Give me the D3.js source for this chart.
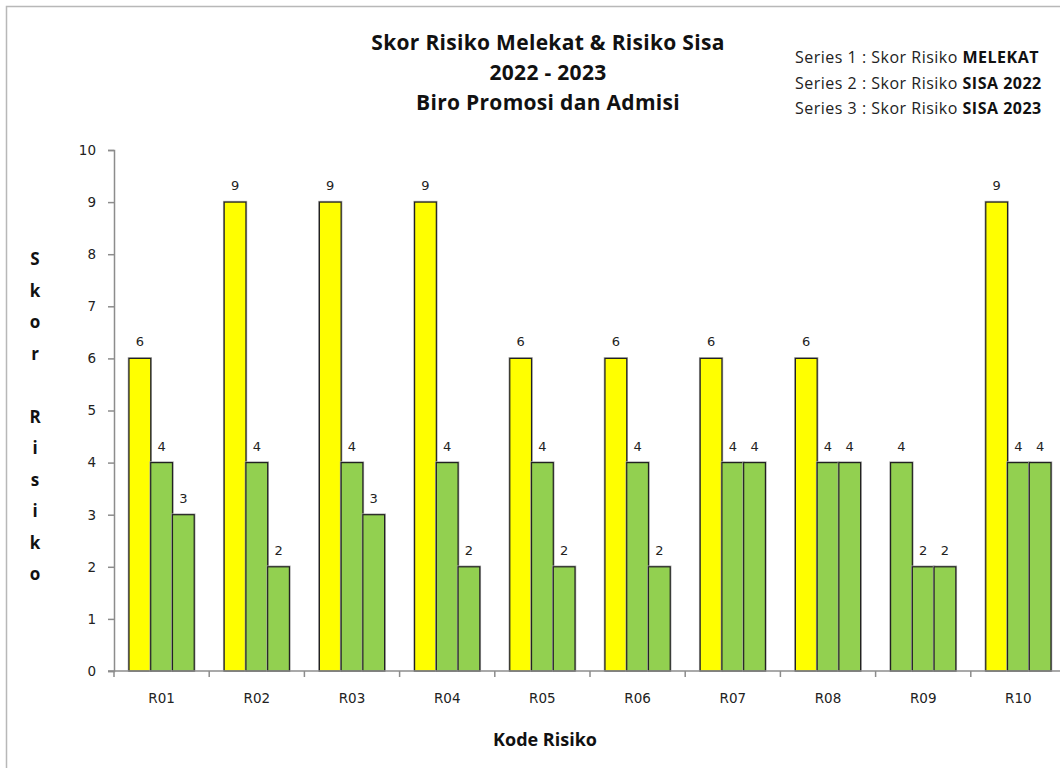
<!DOCTYPE html>
<html>
<head>
<meta charset="utf-8">
<script src="https://cdn.jsdelivr.net/npm/d3@7"></script>
<style>
  html, body { margin: 0; padding: 0; background: #fff; }
  svg { display: block; }
</style>
</head>
<body>
<svg id="chart" width="1060" height="768"></svg>
<script>
// Risk codes and scores per series
const categories = ["R01", "R02", "R03", "R04", "R05", "R06", "R07", "R08", "R09", "R10"];
const melekat   = [6, 9, 9, 9, 6, 6, 6, 6, 4, 9];   // Series 1: Skor Risiko MELEKAT
const sisa2022  = [4, 4, 4, 4, 4, 4, 4, 4, 2, 4];   // Series 2: Skor Risiko SISA 2022
const sisa2023  = [3, 2, 3, 2, 2, 2, 4, 4, 2, 4];   // Series 3: Skor Risiko SISA 2023
const yTicks    = [0, 1, 2, 3, 4, 5, 6, 7, 8, 9, 10];
const seriesKeys = ["melekat", "sisa2022", "sisa2023"];

const titleLines = ["Skor Risiko Melekat & Risiko Sisa", "2022 - 2023", "Biro Promosi dan Admisi"];
const legendLines = [
  ["Series 1 :  Skor Risiko ", "MELEKAT"],
  ["Series 2 :  Skor Risiko ", "SISA 2022"],
  ["Series 3 :  Skor Risiko ", "SISA 2023"]
];

const rows = categories.map((c, i) => ({
  code: c,
  melekat: melekat[i],
  sisa2022: sisa2022[i],
  sisa2023: sisa2023[i]
}));

const svg = d3.select("#chart");
const font = "'Open Sans', 'DejaVu Sans', sans-serif";
const tickFont = "'DejaVu Sans', Verdana, sans-serif";

// outer chart frame
svg.append("rect")
  .attr("x", 6.5).attr("y", 6.5)
  .attr("width", 1100).attr("height", 900)
  .attr("fill", "#fff")
  .attr("stroke", "#b8b8b8").attr("stroke-width", 1.5);

const plot = { left: 114, right: 1066, top: 150, bottom: 671 };

const x = d3.scaleBand()
  .domain(categories)
  .range([plot.left, plot.right])
  .paddingInner(0.315)
  .paddingOuter(0.1575);

const xs = d3.scaleBand()
  .domain(seriesKeys)
  .range([0, x.bandwidth()]);

const y = d3.scaleLinear()
  .domain([0, 10])
  .range([plot.bottom, plot.top]);

// Melekat bars: high scores in yellow, low scores in green
const fillFor = (key, v) => key === "melekat" && v >= 5 ? "#ffff00" : "#92d050";

const groups = svg.append("g").selectAll("g")
  .data(rows)
  .join("g")
  .attr("transform", d => `translate(${x(d.code)},0)`);

const bars = groups.selectAll("g.bar")
  .data(d => seriesKeys.map(k => ({ key: k, value: d[k] })))
  .join("g")
  .attr("class", "bar");

// soft gray shadow edge around each bar
bars.append("rect")
  .attr("x", d => xs(d.key) - 0.5)
  .attr("y", d => y(d.value) - 0.5)
  .attr("width", xs.bandwidth() + 1)
  .attr("height", d => y(0) - y(d.value) + 0.5)
  .attr("fill", "none")
  .attr("stroke", "#a8a8a8")
  .attr("stroke-width", 1.5);

bars.append("rect")
  .attr("x", d => xs(d.key))
  .attr("y", d => y(d.value))
  .attr("width", xs.bandwidth())
  .attr("height", d => y(0) - y(d.value))
  .attr("fill", d => fillFor(d.key, d.value))
  .attr("stroke", "#222")
  .attr("stroke-width", 1.2);

// value labels above the bars
bars.append("text")
  .attr("x", d => xs(d.key) + xs.bandwidth() / 2)
  .attr("y", d => y(d.value) - 12)
  .attr("text-anchor", "middle")
  .attr("font-family", tickFont)
  .attr("font-size", 13)
  .attr("fill", "#222")
  .text(d => d.value);

// y axis
const yAxis = svg.append("g")
  .attr("transform", `translate(${plot.left},0)`)
  .call(d3.axisLeft(y).tickValues(yTicks).tickSize(6).tickPadding(12));
yAxis.select(".domain").attr("stroke", "#8c8c8c").attr("stroke-width", 1.5);
yAxis.selectAll(".tick line").attr("stroke", "#8c8c8c").attr("stroke-width", 1.5);
yAxis.selectAll(".tick text")
  .attr("font-family", tickFont).attr("font-size", 13.5).attr("fill", "#222");

// x axis with ticks between the category groups
const xAxis = svg.append("g")
  .attr("transform", `translate(0,${plot.bottom})`);
xAxis.append("line")
  .attr("x1", plot.left - 6).attr("x2", plot.right)
  .attr("y1", 0).attr("y2", 0)
  .attr("stroke", "#8c8c8c").attr("stroke-width", 1.5);
xAxis.selectAll("line.tick")
  .data(categories)
  .join("line")
  .attr("class", "tick")
  .attr("x1", d => x(d) - x.step() * x.paddingOuter())
  .attr("x2", d => x(d) - x.step() * x.paddingOuter())
  .attr("y1", 0).attr("y2", 6)
  .attr("stroke", "#8c8c8c").attr("stroke-width", 1.5);
xAxis.selectAll("text")
  .data(categories)
  .join("text")
  .attr("x", d => x(d) + x.bandwidth() / 2)
  .attr("y", 32)
  .attr("text-anchor", "middle")
  .attr("font-family", tickFont)
  .attr("font-size", 13.5)
  .attr("fill", "#222")
  .text(d => d);

// x axis title
svg.append("text")
  .attr("x", 545).attr("y", 746)
  .attr("text-anchor", "middle")
  .attr("font-family", font).attr("font-weight", "bold")
  .attr("font-size", 18).attr("fill", "#111")
  .text("Kode Risiko");

// y axis title, stacked letters
const yTitle = "Skor Risiko".split("");
svg.append("g").selectAll("text")
  .data(yTitle)
  .join("text")
  .attr("x", 35)
  .attr("y", (d, i) => 265 + i * 31.5)
  .attr("text-anchor", "middle")
  .attr("font-family", font).attr("font-weight", "bold")
  .attr("font-size", 17).attr("fill", "#111")
  .text(d => d);

// chart title
svg.append("g").selectAll("text")
  .data(titleLines)
  .join("text")
  .attr("x", 548)
  .attr("y", (d, i) => 50 + i * 30)
  .attr("text-anchor", "middle")
  .attr("font-family", font).attr("font-weight", "bold")
  .attr("font-size", 21).attr("fill", "#111")
  .attr("letter-spacing", 0.3)
  .text(d => d);

// series legend
const legend = svg.append("g").selectAll("text")
  .data(legendLines)
  .join("text")
  .attr("x", 795)
  .attr("y", (d, i) => 63 + i * 25.5)
  .attr("font-family", font)
  .attr("font-size", 16)
  .attr("letter-spacing", 0.5)
  .attr("fill", "#222");
legend.append("tspan").text(d => d[0]);
legend.append("tspan").attr("font-weight", "bold").attr("fill", "#111").text(d => d[1]);
</script>
</body>
</html>
